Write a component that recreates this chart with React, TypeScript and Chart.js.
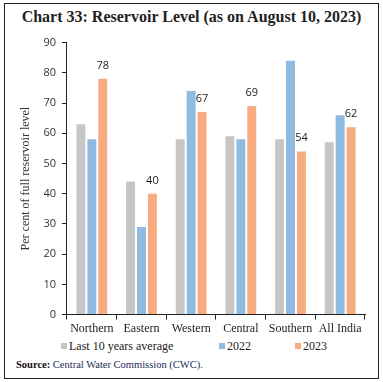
import React, { useEffect, useRef } from "react";
import { Chart, registerables } from "chart.js";

Chart.register(...registerables);

const categories = ["Northern", "Eastern", "Western", "Central", "Southern", "All India"];
const last10Avg = [63, 44, 58, 59, 58, 57];
const values2022 = [58, 29, 74, 58, 84, 66];
const values2023 = [78, 40, 67, 69, 54, 62];
const seriesNames = ["Last 10 years average", "2022", "2023"];
const seriesColors = ["#c6c6c6", "#8fbbe2", "#f6ac7f"];
const yMin = 0;
const yMax = 90;
const yStep = 10;
const titleText = "Chart 33: Reservoir Level (as on August 10, 2023)";
const yAxisTitle = "Per cent of full reservoir level";
const sourceLabel = "Source:";
const sourceText = " Central Water Commission (CWC).";

const SERIF = "'Liberation Serif', 'Times New Roman', serif";
const SANS = "'Open Sans', 'Noto Sans', sans-serif";

const valueLabelPlugin = {
  id: "valueLabels",
  afterDatasetsDraw(chart: any) {
    const ctx = chart.ctx;
    const meta = chart.getDatasetMeta(2);
    ctx.save();
    ctx.font = `11px ${SANS}`;
    ctx.fillStyle = "#222";
    ctx.textAlign = "center";
    ctx.textBaseline = "alphabetic";
    meta.data.forEach((bar: any, i: number) => {
      ctx.fillText(String(values2023[i]), bar.x, bar.y - 10);
    });
    ctx.restore();
  },
};

export default function App() {
  const canvasRef = useRef<HTMLCanvasElement | null>(null);

  useEffect(() => {
    if (!canvasRef.current) return;
    const series = [last10Avg, values2022, values2023];
    const chart = new Chart(canvasRef.current, {
      type: "bar",
      data: {
        labels: categories,
        datasets: series.map((d, i) => ({
          label: seriesNames[i],
          data: d,
          backgroundColor: seriesColors[i],
          borderWidth: 0,
          barPercentage: 0.82,
          categoryPercentage: 0.66,
        })),
      },
      options: {
        animation: false,
        responsive: true,
        maintainAspectRatio: false,
        layout: { padding: { top: 12, right: 13, bottom: 0, left: 0 } },
        plugins: {
          legend: { display: false },
          tooltip: { enabled: false },
        },
        scales: {
          x: {
            grid: { drawOnChartArea: false, drawTicks: true, tickLength: 5, color: "#222" },
            border: { color: "#222", width: 1 },
            ticks: { font: { family: SERIF, size: 12 }, color: "#222", padding: 2 },
          },
          y: {
            min: yMin,
            max: yMax,
            ticks: { stepSize: yStep, font: { family: SANS, size: 11 }, color: "#333", padding: 6 },
            grid: { drawOnChartArea: false, drawTicks: true, tickLength: 5, color: "#222" },
            border: { color: "#222", width: 1 },
            title: {
              display: true,
              text: yAxisTitle,
              font: { family: SERIF, size: 12 },
              color: "#333",
              padding: { top: 14, bottom: 4 },
            },
          },
        },
      },
      plugins: [valueLabelPlugin],
    });
    return () => chart.destroy();
  }, []);

  const legendLefts = [61, 219, 295];

  return (
    <div
      style={{
        position: "absolute",
        left: 4,
        top: 3,
        width: 375,
        height: 376,
        boxSizing: "border-box",
        border: "1px solid #222",
        background: "#fff",
      }}
    >
      <div
        style={{
          position: "absolute",
          left: 0,
          top: 2,
          width: "100%",
          textAlign: "center",
          fontFamily: SERIF,
          fontWeight: "bold",
          fontSize: 16,
          lineHeight: "22px",
          color: "#222",
        }}
      >
        {titleText}
      </div>
      <div style={{ position: "absolute", left: 0, top: 26, width: 373, height: 308 }}>
        <canvas ref={canvasRef} />
      </div>
      {seriesNames.map((name, i) => (
        <div
          key={name}
          style={{
            position: "absolute",
            left: legendLefts[i] - 5,
            top: 334,
            display: "flex",
            alignItems: "center",
            fontFamily: SERIF,
            fontSize: 12,
            lineHeight: "16px",
            color: "#222",
            whiteSpace: "nowrap",
          }}
        >
          <span style={{ display: "inline-block", width: 6, height: 6, background: seriesColors[i], marginRight: 2 }} />
          {name}
        </div>
      ))}
      <div
        style={{
          position: "absolute",
          left: 11,
          top: 354,
          fontFamily: SERIF,
          fontSize: 10.5,
          lineHeight: "14px",
          color: "#1c2b5a",
          whiteSpace: "nowrap",
        }}
      >
        <b style={{ color: "#111" }}>{sourceLabel}</b>
        {sourceText}
      </div>
    </div>
  );
}
